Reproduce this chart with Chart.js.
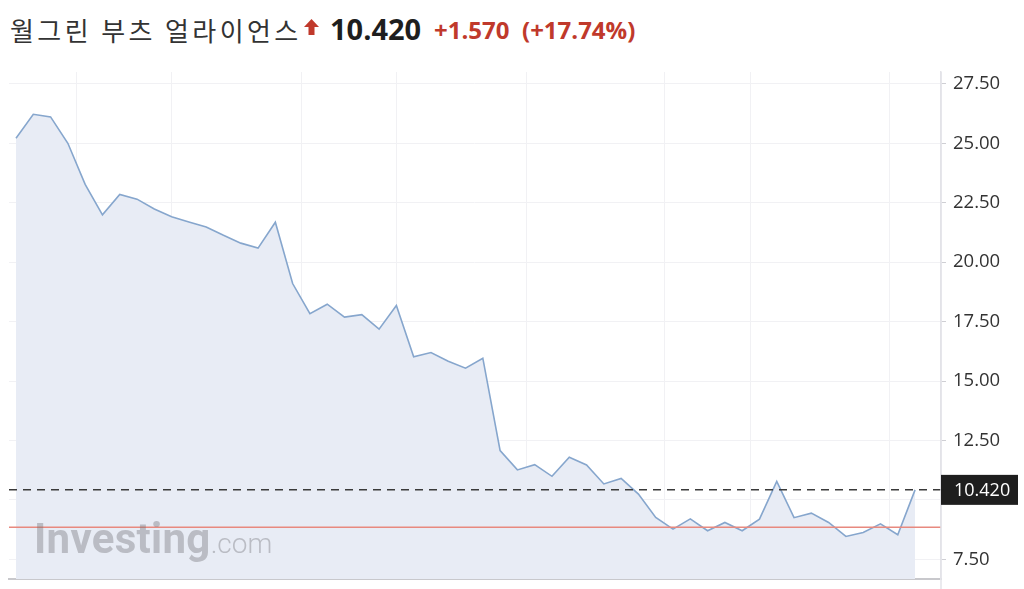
<!DOCTYPE html>
<html>
<head>
<meta charset="utf-8">
<script src="https://cdn.jsdelivr.net/npm/chart.js@4.4.1/dist/chart.umd.min.js"></script>
<style>
  body { margin: 0; background: #fff; width: 1024px; height: 589px; overflow: hidden; position: relative; }
  .hd { position: absolute; white-space: nowrap; line-height: 1; }
  #name { left: 10px; top: 11px; font: 400 26px "Noto Sans CJK KR"; letter-spacing: 3.4px; color: #333; }
  #arrow { position: absolute; left: 304px; top: 19px; }
  #last { left: 330px; top: 9px; font: 700 29px "Open Sans"; color: #1e1e1e; }
  #chg { left: 434px; top: 13px; font: 700 24px "Open Sans"; color: #c0392b; }
  #pct { left: 522px; top: 13px; font: 700 24px "Open Sans"; color: #c0392b; }
  #wrap { position: absolute; left: 0; top: 60px; width: 1024px; height: 529px; }
  #mark { position: absolute; left: 34px; top: 514px; white-space: nowrap; line-height: 1; color: rgba(110,110,115,0.38); }
  #mark b { font: 700 42px Roboto; letter-spacing: 0.3px; }
  #mark span { font: 300 28px Roboto; }
</style>
</head>
<body>
<span class="hd" id="name">월그린 부츠 얼라이언스</span>
<svg id="arrow" width="15" height="16" viewBox="0 0 15 16"><path d="M7.5 0 L15 8 L10.5 8 L10.5 16 L4.5 16 L4.5 8 L0 8 Z" fill="#c0392b"/></svg>
<span class="hd" id="last">10.420</span>
<span class="hd" id="chg">+1.570</span>
<span class="hd" id="pct">(+17.74%)</span>
<div id="wrap"><canvas id="chart"></canvas></div>
<div id="mark"><b>Investing</b><span>.com</span></div>
<script>
// daily closes
var closes = [25.21, 26.22, 26.11, 25.00, 23.27, 21.99, 22.85, 22.65, 22.24, 21.91,
              21.69, 21.48, 21.13, 20.80, 20.59, 21.68, 19.10, 17.83, 18.23, 17.69,
              17.79, 17.18, 18.18, 16.02, 16.20, 15.83, 15.54, 15.96, 12.07, 11.26,
              11.48, 10.99, 11.79, 11.47, 10.67, 10.90, 10.24, 9.26, 8.77, 9.20,
              8.70, 9.05, 8.70, 9.19, 10.78, 9.25, 9.44, 9.05, 8.46, 8.63,
              8.99, 8.53, 10.42];
var lastPrice = 10.42;
var prevClose = 8.85;
var yTicks = [7.5, 10, 12.5, 15, 17.5, 20, 22.5, 25, 27.5];
// vertical grid lines (period boundaries, in bar index units)
var xGrid = [3.5, 9, 16.5, 22, 29.5, 37.5, 42.5, 50.5];

var xMin = -0.405, xMax = 53.5;

var priceTag = {
    id: 'priceTag',
    afterDraw: function(chart) {
        var ctx = chart.ctx, y = chart.scales.y;
        var py = y.getPixelForValue(lastPrice);
        ctx.save();
        // right axis line runs to the bottom edge
        ctx.strokeStyle = '#e3e3e8';
        ctx.lineWidth = 1.5;
        ctx.beginPath();
        ctx.moveTo(y.left, chart.chartArea.top);
        ctx.lineTo(y.left, chart.height);
        ctx.stroke();
        ctx.fillStyle = '#1e1e1e';
        ctx.fillRect(y.left, py - 15, 77, 30);
        ctx.fillStyle = '#fff';
        ctx.font = '18px "Open Sans"';
        ctx.textBaseline = 'middle';
        ctx.fillText(lastPrice.toFixed(3), y.left + 13, py + 1);
        ctx.restore();
    }
};

var config = {
    type: 'line',
    data: {
        datasets: [{
            data: closes.map(function(v, i) { return { x: i, y: v }; }),
            borderColor: '#86a6cd',
            borderWidth: 1.6,
            backgroundColor: '#e8ecf5',
            fill: 'start',
            pointRadius: 0,
            order: 3
        }, {
            data: [{ x: xMin, y: prevClose }, { x: xMax, y: prevClose }],
            borderColor: '#e8897f',
            borderWidth: 1.5,
            pointRadius: 0,
            fill: false,
            order: 2
        }, {
            data: [{ x: xMin, y: lastPrice }, { x: xMax, y: lastPrice }],
            borderColor: '#3a3a3a',
            borderWidth: 1.5,
            borderDash: [8, 6],
            pointRadius: 0,
            fill: false,
            order: 1
        }]
    },
    options: {
        responsive: true,
        maintainAspectRatio: false,
        animation: false,
        layout: { padding: { left: 9, top: 12, bottom: 10, right: 0 } },
        plugins: {
            legend: { display: false },
            tooltip: { enabled: false }
        },
        scales: {
            x: {
                type: 'linear',
                min: xMin,
                max: xMax,
                afterBuildTicks: function(scale) {
                    scale.ticks = xGrid.map(function(v) { return { value: v }; });
                },
                ticks: { display: false },
                grid: { color: '#f1f1f4', drawTicks: false },
                border: { color: '#c8c8cc', width: 2 }
            },
            y: {
                position: 'right',
                min: 6.67,
                max: 28.0,
                afterBuildTicks: function(scale) {
                    scale.ticks = yTicks.map(function(v) { return { value: v }; });
                },
                afterFit: function(scale) {
                    scale.width = 83;
                    scale.paddingTop = 0;
                    scale.paddingBottom = 0;
                },
                ticks: {
                    color: '#333',
                    font: { family: 'Open Sans', size: 18.5 },
                    padding: 7,
                    callback: function(v) {
                        return Math.abs(v - lastPrice) < 1 ? '' : v.toFixed(2);
                    }
                },
                grid: { color: '#f1f1f4', tickLength: 5, tickColor: '#cfcfd4' },
                border: { color: '#e3e3e8', width: 1.5 }
            }
        }
    },
    plugins: [priceTag]
};

window.onload = function() {
    var ctx = document.getElementById('chart').getContext('2d');
    window.myChart = new Chart(ctx, config);
};
</script>
</body>
</html>
